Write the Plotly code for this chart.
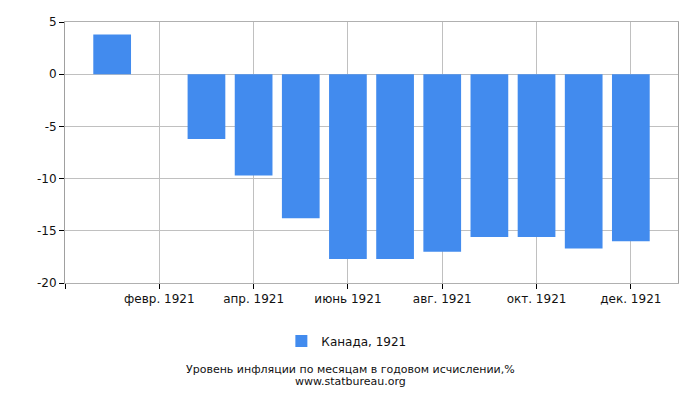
import plotly.graph_objects as go

months = ["янв. 1921", "февр. 1921", "март 1921", "апр. 1921", "май 1921", "июнь 1921",
          "июль 1921", "авг. 1921", "сент. 1921", "окт. 1921", "нояб. 1921", "дек. 1921"]
values = [3.8, None, -6.2, -9.7, -13.8, -17.7, -17.7, -17.0, -15.6, -15.6, -16.7, -16.0]
series_name = "Канада, 1921"
y_ticks = [5, 0, -5, -10, -15, -20]

idx = list(range(len(months)))
tick_idx = [-1] + [i for i in idx if i % 2 == 1]
tick_txt = [""] + [months[i] for i in idx if i % 2 == 1]
y_txt = [str(v) for v in y_ticks]

W, H = 700, 400
OFF = 8  # page body margin offset
L, R, T, B = 65 - OFF, 678 - OFF, 22 - OFF, 283 - OFF  # plot box in figure px

fig = go.Figure()
fig.add_trace(go.Bar(x=idx, y=values, name=series_name, marker_color="#428bee",
                     marker_line_width=0, width=0.8, showlegend=True))

fig.update_layout(
    width=W, height=H,
    margin=dict(l=L, r=W - R, t=T, b=H - B, autoexpand=False),
    plot_bgcolor="white", paper_bgcolor="white",
    font=dict(family="DejaVu Sans", size=12, color="#111"),
    showlegend=True,
    legend=dict(orientation="h", x=0.459, xanchor="center",
                yref="container", y=1 - (341 - OFF) / H, yanchor="middle",
                font=dict(family="DejaVu Sans", size=12, color="#111")),
    xaxis=dict(range=[-1, 12], tickmode="array", tickvals=tick_idx, ticktext=tick_txt,
               showgrid=True, gridcolor="#c0c0c0", zeroline=False, automargin=False,
               showline=True, linecolor="#b0b0b0", mirror=True,
               ticks="outside", ticklen=5, tickcolor="#000"),
    yaxis=dict(range=[-20, 5], tickmode="array", tickvals=y_ticks, ticktext=y_txt,
               showgrid=True, gridcolor="#c0c0c0", zeroline=False, automargin=False,
               showline=True, linecolor="#a0a0a0", mirror=True,
               ticks="outside", ticklen=5, tickcolor="#000"),
)
footer = [("Уровень инфляции по месяцам в годовом исчислении,%", 369.5),
          ("www.statbureau.org", 381.5)]
for text, ypx in footer:
    fig.add_annotation(text=text, showarrow=False, xref="paper", yref="paper",
                       x=(350 - 65) / (678 - 65), y=(283 - ypx) / (283 - 22),
                       yanchor="middle",
                       font=dict(family="DejaVu Sans", size=11, color="#111"))

fig.write_html("out.html")
